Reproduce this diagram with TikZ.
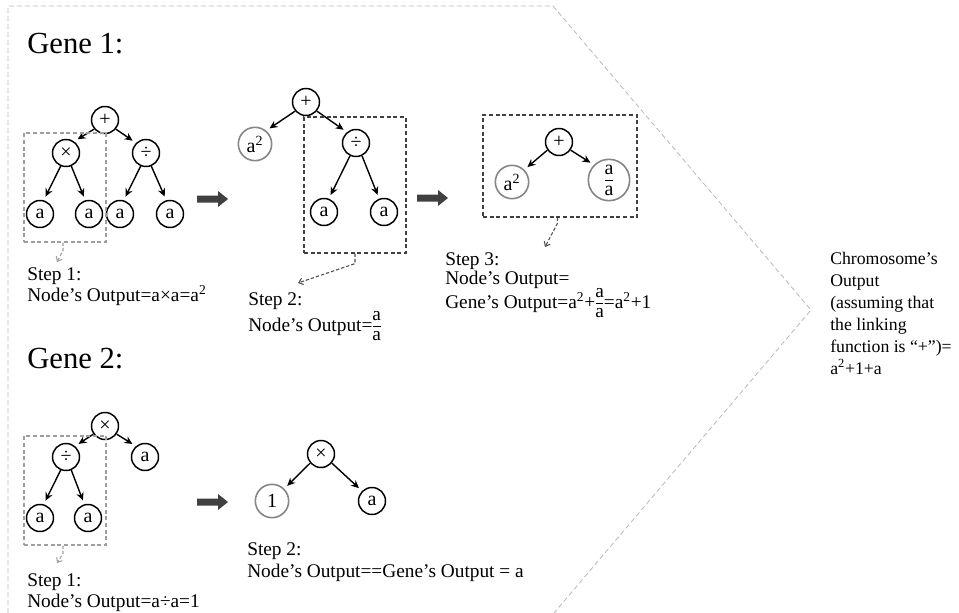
\documentclass[tikz,border=0pt]{standalone}
\usepackage{fontspec}
\setmainfont{Liberation Serif}
\usetikzlibrary{arrows.meta}

% stacked a over a with a short bar, centred on the math axis, set in the text font
\newcommand{\afrac}{\ensuremath{\vcenter{\offinterlineskip\halign{\hfil##\hfil\cr
  a\cr\noalign{\kern4pt}\rule{0.4em}{0.45pt}\cr\noalign{\kern4pt}a\cr}}}}
% thick grey block arrow between the stages
\newcommand{\blockarr}[2]{\fill[blockfill] (#1,#2) ++(0,-3.5) -- ++(21,0) -- ++(0,-4.5) -- ++(10,8) -- ++(-10,8) -- ++(0,-4.5) -- ++(-21,0) -- cycle;}

\tikzset{
  op/.style={circle, draw=black, line width=1.1pt, minimum size=20.25pt, inner sep=0pt,
             font=\fontsize{15}{15}\selectfont},
  res/.style={circle, draw=black!48, line width=1.2pt, minimum size=25pt, inner sep=0pt,
              font=\fontsize{15}{15}\selectfont},
  tarr/.style={-{Stealth[length=6pt,width=5.5pt]}, line width=1.05pt, shorten >=3pt},
  gbox/.style={draw=black!38, line width=0.9pt, dash pattern=on 3pt off 2pt,
               inner sep=0pt, minimum width=61.5pt, minimum height=81.75pt},
  dbox/.style={draw=black!75, line width=0.9pt, dash pattern=on 3pt off 2pt, inner sep=0pt},
  gconn/.style={draw=black!38, line width=0.8pt, dash pattern=on 2.5pt off 1.5pt,
                -{Straight Barb[length=3pt,width=5pt]}},
  dconn/.style={draw=black!70, line width=0.8pt, dash pattern=on 2.5pt off 1.5pt,
                -{Straight Barb[length=3pt,width=5pt]}},
  blockfill/.style={fill=black!75},
  outline/.style={draw=black!28, line width=0.6pt, dash pattern=on 3.75pt off 2.25pt},
  genelbl/.style={anchor=base west, inner sep=0pt, font=\fontsize{23}{27}\selectfont},
  steptxt/.style={anchor=base west, inner sep=0pt, font=\fontsize{14.5}{15}\selectfont},
  chromtxt/.style={anchor=base west, inner sep=0pt, font=\fontsize{13.3}{15}\selectfont},
}

\begin{document}
\begin{tikzpicture}[x=0.75pt,y=-0.75pt]
\useasboundingbox (0,0) rectangle (959,613);

% outer chevron around both genes
\draw[outline] (8,613) -- (8,6) -- (553,6) -- (811,310) -- (554,613);

% ---------------- Gene 1 ----------------
\node[genelbl] (gene1) at (27,54) {Gene 1:};

% full expression tree
\node[op] (g1p)  at (105,120) {+};
\node[op] (g1m)  at (66,153)  {×};
\node[op] (g1d)  at (146,153) {÷};
\node[op] (g1a1) at (40,214)  {a};
\node[op] (g1a2) at (89,214)  {a};
\node[op] (g1a3) at (120,214) {a};
\node[op] (g1a4) at (170,214) {a};
\draw[tarr] (g1p.-140) -- (g1m.55);
\draw[tarr] (g1p.-40)  -- (g1d.135);
\draw[tarr] (g1m.-112) -- (g1a1.75);
\draw[tarr] (g1m.-68)  -- (g1a2.105);
\draw[tarr] (g1d.-112) -- (g1a3.75);
\draw[tarr] (g1d.-68)  -- (g1a4.105);

\node[gbox] (box1) at (65,187.5) {};
\coordinate (c1end) at (57,262);
\draw[gconn] ([xshift=-1.5pt]box1.south) -- ++(0,8) -- (c1end);
\node[steptxt] (s1a) at (27,280) {Step 1:};
\node[steptxt] (s1b) at (27,301) {Node’s Output=a×a=a\textsuperscript{2}};

\blockarr{197}{199}

% after step 1
\node[op]  (g1bp)  at (306,102) {+};
\node[res] (g1bs)  at (255,144) {a\textsuperscript{2}};
\node[op]  (g1bd)  at (356,143) {÷};
\node[op]  (g1ba1) at (324,212) {a};
\node[op]  (g1ba2) at (384,212) {a};
\draw[tarr] (g1bp.-140) -- (g1bs.50);
\draw[tarr] (g1bp.-40)  -- (g1bd.130);
\draw[tarr] (g1bd.-115) -- (g1ba1.70);
\draw[tarr] (g1bd.-65)  -- (g1ba2.110);

\node[dbox, minimum width=76.5pt, minimum height=102pt] (box2) at (355,185) {};
\coordinate (c2end) at (298,283);
\draw[dconn] (box2.south) -- ++(0,10) -- (c2end);
\node[steptxt] (s2a) at (248,305) {Step 2:};
\node[steptxt] (s2b) at (248,331) {Node’s Output=\afrac};

\blockarr{417}{198}

% after step 2
\node[dbox, minimum width=115.5pt, minimum height=76.5pt] (box3) at (560,166) {};
\node[op]  (g1cp) at (559,142) {+};
\node[res] (g1cs) at (512,182) {a\textsuperscript{2}};
\node[res, minimum size=31pt] (g1cf) at (609,180) {\afrac};
\draw[tarr] (g1cp.-145) -- (g1cs.45);
\draw[tarr] (g1cp.-35)  -- (g1cf.135);

\coordinate (c3end) at (545,247);
\draw[dconn] ([xshift=-2pt]box3.south) -- ++(0,6) -- (c3end);
\node[steptxt] (s3a) at (445,265) {Step 3:};
\node[steptxt] (s3b) at (445,284) {Node’s Output=};
\node[steptxt] (s3c) at (445,308) {Gene’s Output=a\textsuperscript{2}+\afrac=a\textsuperscript{2}+1};

% ---------------- Gene 2 ----------------
\node[genelbl] (gene2) at (27,368) {Gene 2:};

\node[op] (g2p)  at (105,426) {×};
\node[op] (g2d)  at (66,457)  {÷};
\node[op] (g2a)  at (145,457) {a};
\node[op] (g2a1) at (40,518)  {a};
\node[op] (g2a2) at (88,518)  {a};
\draw[tarr] (g2p.-145) -- (g2d.50);
\draw[tarr] (g2p.-35)  -- (g2a.130);
\draw[tarr] (g2d.-112) -- (g2a1.75);
\draw[tarr] (g2d.-68)  -- (g2a2.105);

\node[gbox] (box4) at (65,490.5) {};
\coordinate (c4end) at (57,563);
\draw[gconn] ([xshift=-1.5pt]box4.south) -- ++(0,8) -- (c4end);
\node[steptxt] (t1a) at (27,586) {Step 1:};
\node[steptxt] (t1b) at (27,607) {Node’s Output=a÷a=1};

\blockarr{197}{502}

\node[op]  (g2bp) at (321,454) {×};
\node[res] (g2b1) at (272,501) {1};
\node[op]  (g2ba) at (372,501) {a};
\draw[tarr] (g2bp.-140) -- (g2b1.45);
\draw[tarr] (g2bp.-40)  -- (g2ba.135);

\node[steptxt] (t2a) at (247,555) {Step 2:};
\node[steptxt] (t2b) at (247,577) {Node’s Output==Gene’s Output = a};

% ---------------- chromosome result ----------------
\node[chromtxt] (ch1) at (830,264) {Chromosome’s};
\node[chromtxt] (ch2) at (830,286) {Output};
\node[chromtxt] (ch3) at (830,308) {(assuming that};
\node[chromtxt] (ch4) at (830,330) {the linking};
\node[chromtxt] (ch5) at (830,352) {function is “+”)=};
\node[chromtxt] (ch6) at (830,374) {a\textsuperscript{2}+1+a};
\end{tikzpicture}
\end{document}
